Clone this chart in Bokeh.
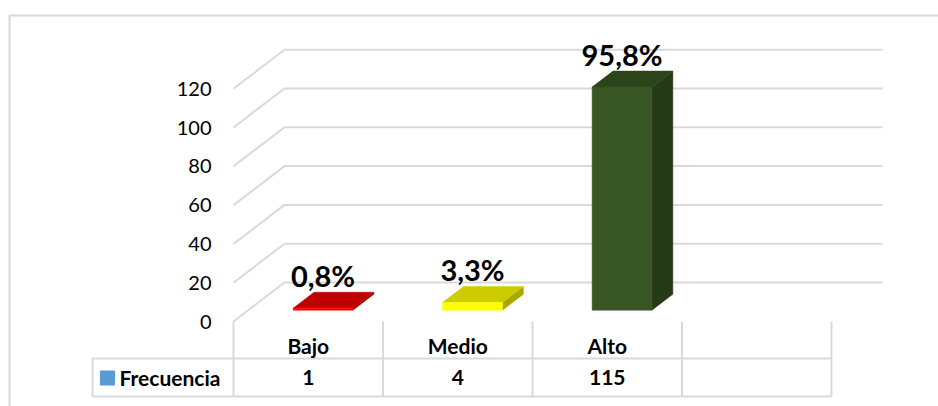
from bokeh.plotting import figure
from bokeh.models import Range1d
from bokeh.core.properties import value
from bokeh.embed import file_html
from bokeh.resources import INLINE

# ---- data ----
categories = ["Bajo", "Medio", "Alto"]
frecuencia = [1, 4, 115]
porcentajes = ["0,8%", "3,3%", "95,8%"]
y_ticks = [0, 20, 40, 60, 80, 100, 120]
series_name = "Frecuencia"

# ---- styles ----
front_colors = ["#ff0000", "#ffff00", "#375623"]
top_colors = ["#c00000", "#cccc00", "#2b4419"]
side_colors = ["#a00000", "#a8a800", "#263a17"]
grid_color = "#d9d9d9"
legend_color = "#5b9bd5"
FONT = "Lato"

W, H = 938, 406
# scale layout: category unit width in px, value unit in px, origin
CAT_PX = 149.5
VAL_PX = 1.94
X0_PX = 233.0   # left edge of first category (front plane)
Y0_PX = 321.0   # value 0 (front plane)

def xd(px):
    return (px - X0_PX) / CAT_PX

def yd(py):
    return (Y0_PX - py) / VAL_PX

p = figure(width=W, height=H, output_backend="svg", toolbar_location=None,
           x_range=Range1d(xd(0), xd(W)), y_range=Range1d(yd(H), yd(0)),
           min_border=0)
p.axis.visible = False
p.grid.visible = False
p.outline_line_color = None
p.background_fill_color = "white"
p.border_fill_color = "white"

ncat = len(categories)
DX = 51 / CAT_PX     # floor depth (x)
DY = 39 / VAL_PX     # floor depth (y)

# outer chart border
p.line([xd(9), xd(9), xd(W + 5)], [yd(H + 5), yd(15), yd(15)],
       line_color=grid_color, line_width=2)

# gridlines (diagonal on side wall + back wall)
gx, gy = [], []
for t in y_ticks:
    gx.append([0, DX, ncat + 1 + DX])
    gy.append([t, t + DY, t + DY])
p.multi_line(gx, gy, line_color=grid_color, line_width=2)

# y tick labels
p.text(x=[xd(211)] * len(y_ticks), y=y_ticks, text=[str(t) for t in y_ticks],
       text_align="right", text_baseline="middle", text_font=value(FONT),
       text_font_size="20px", text_color="#000000")

# 3D bars
FF, FB = 0.29, 0.70   # bar front/back depth fraction
HALF = 0.2
tops_x, tops_y, sides_x, sides_y, fr_x, fr_y = [], [], [], [], [], []
for i, v in enumerate(frecuencia):
    c = i + 0.5 + FF * DX
    xl, xr = c - HALF, c + HALF
    y0 = FF * DY
    ddx, ddy = (FB - FF) * DX, (FB - FF) * DY
    fr_x.append([xl, xr, xr, xl]); fr_y.append([y0, y0, y0 + v, y0 + v])
    tops_x.append([xl, xr, xr + ddx, xl + ddx])
    tops_y.append([y0 + v, y0 + v, y0 + v + ddy, y0 + v + ddy])
    sides_x.append([xr, xr + ddx, xr + ddx, xr])
    sides_y.append([y0, y0 + ddy, y0 + v + ddy, y0 + v])
p.patches(sides_x, sides_y, fill_color=side_colors, line_color=side_colors, line_width=0.5)
p.patches(tops_x, tops_y, fill_color=top_colors, line_color=top_colors, line_width=0.5)
p.patches(fr_x, fr_y, fill_color=front_colors, line_color=front_colors, line_width=0.5)

# data labels
lab_x = [i + 0.5 + FF * DX for i in range(ncat)]
lab_y = [FB * DY + v - 0.5 for v in frecuencia]
p.text(x=lab_x, y=lab_y, text=porcentajes, text_align="center",
       text_baseline="bottom", text_font=value(FONT), text_font_style="bold",
       text_font_size="29px", text_color="#000000")

# data table
ybot = yd(396)
ymid = yd(358)
tx, ty = [], []
for k in range(ncat + 2):
    tx.append([k, k]); ty.append([0, ybot])
tx.append([xd(92), ncat + 1]); ty.append([ymid, ymid])
tx.append([xd(92), ncat + 1]); ty.append([ybot, ybot])
tx.append([xd(92), xd(92)]); ty.append([ymid, ybot])
p.multi_line(tx, ty, line_color=grid_color, line_width=2)

cx = [i + 0.5 for i in range(ncat)]
p.text(x=cx, y=[yd(345)] * ncat, text=categories, text_align="center",
       text_baseline="middle", text_font=value(FONT), text_font_style="bold",
       text_font_size="21px", text_color="#000000")
p.text(x=cx, y=[yd(377)] * ncat, text=[str(v) for v in frecuencia], text_align="center",
       text_baseline="middle", text_font=value(FONT), text_font_style="bold",
       text_font_size="21px", text_color="#000000")

p.scatter(x=[xd(107)], y=[yd(377.5)], marker="square", size=14,
          fill_color=legend_color, line_color=legend_color)
p.text(x=[xd(119)], y=[yd(377)], text=[series_name], text_align="left",
       text_baseline="middle", text_font=value(FONT), text_font_style="bold",
       text_font_size="21px", text_color="#000000")

open("out.html", "w").write(file_html(p, INLINE))
